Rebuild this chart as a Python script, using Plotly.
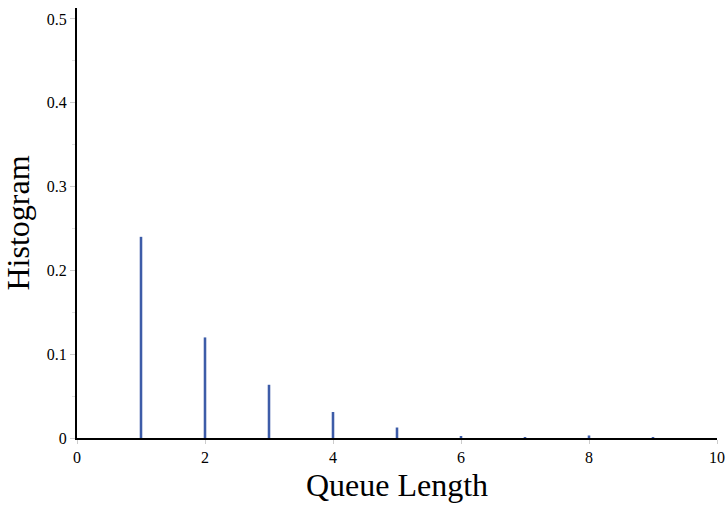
import plotly.graph_objects as go

queue_length = [0, 1, 2, 3, 4, 5, 6, 7, 8, 9]
histogram = [0.0, 0.240, 0.120, 0.0635, 0.031, 0.0125, 0.002, 0.001, 0.003, 0.001]

fig = go.Figure()
fig.add_trace(go.Bar(
    x=queue_length, y=histogram, width=0.04,
    marker=dict(color="#3d5ca8", line=dict(width=0)),
))

font = "Liberation Serif, Times New Roman, serif"
fig.update_layout(
    width=728, height=510,
    margin=dict(l=77, r=11, t=8, b=72),
    paper_bgcolor="white", plot_bgcolor="white",
    showlegend=False,
    font=dict(family=font, size=16, color="black"),
    xaxis=dict(
        range=[0, 10], tickvals=[0, 2, 4, 6, 8, 10],
        showgrid=False, zeroline=False, automargin=False,
        showline=True, linecolor="black", linewidth=2,
        ticks="outside", ticklen=4, tickcolor="#cccccc",
        title=dict(text="Queue Length", font=dict(family=font, size=32), standoff=8),
        tickfont=dict(family=font, size=16),
    ),
    yaxis=dict(
        range=[0, 0.513], tickvals=[0, 0.1, 0.2, 0.3, 0.4, 0.5],
        showgrid=False, zeroline=False, automargin=False,
        showline=True, linecolor="black", linewidth=2,
        ticks="outside", ticklen=5, tickcolor="#cccccc",
        minor=dict(tickvals=[0.05, 0.15, 0.25, 0.35, 0.45], ticks="outside", ticklen=3, tickcolor="#e0e0e0"),
        title=dict(text="Histogram", font=dict(family=font, size=32), standoff=12),
        tickfont=dict(family=font, size=16),
    ),
)

fig.write_html("out.html")
